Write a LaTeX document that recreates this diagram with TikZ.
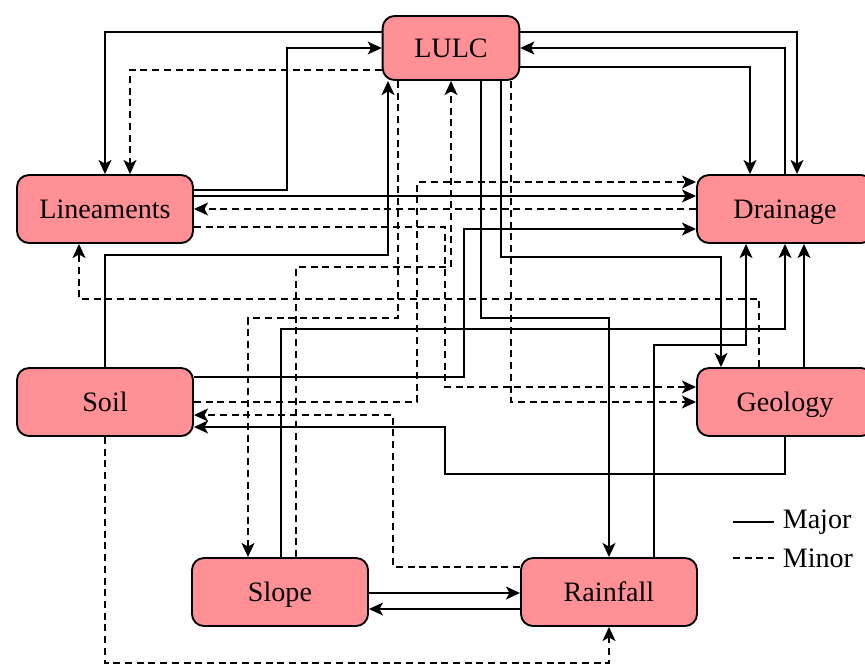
\documentclass[tikz,border=0pt]{standalone}
\usepackage{fontspec}
\setmainfont{Liberation Serif}
\usepackage{xcolor}
\usepackage{tikz}
\usetikzlibrary{arrows.meta,positioning}

\definecolor{boxpink}{RGB}{255,145,150}

\begin{document}
\begin{tikzpicture}[
        x=0.015cm, y=-0.015cm,
        factor/.style={draw, thick, rounded corners=0.18cm, fill=boxpink,
            minimum width=2.64cm, minimum height=1.02cm,
            text height=2.2ex, text depth=0.45ex,
            font=\fontsize{12}{14}\selectfont},
        major/.style={thick},
        minor/.style={thick, dash pattern=on 3pt off 2pt},
        >={Stealth[length=6pt,width=5.5pt,inset=1.5pt]}
    ]
        \useasboundingbox (0,0) rectangle (865,664);
        \node[factor, minimum width=2.05cm, minimum height=0.96cm] (lulc) at (451,48) {LULC};
        \node[factor] (lin) at (105,209) {Lineaments};
        \node[factor] (drain) at (785,209) {Drainage};
        \node[factor] (soil) at (105,402) {Soil};
        \node[factor] (geo) at (785,402) {Geology};
        \node[factor] (slope) at (280,592) {Slope};
        \node[factor] (rain) at (609,592) {Rainfall};

        % major links
        \draw[major,->] (lulc.west |- 0,32) -| (lin.north);
        \draw[major,->] (lin.east |- 0,190) -| (287,48) -- (lulc.west);
        \draw[major,->] (soil.north) |- (388,255) -- (lulc.south -| 388,0);
        \draw[major,->] (lulc.east |- 0,32) -| (drain.north -| 797,0);
        \draw[major,->] (drain.north) |- (lulc.east);
        \draw[major,->] (lulc.east |- 0,67) -| (drain.north -| 750,0);
        \draw[major,->] (lulc.south -| 481,0) |- (609,318) -- (rain.north);
        \draw[major,->] (lulc.south -| 501,0) |- (721,257) -- (geo.north -| 721,0);
        \draw[major,->] (lin.east |- 0,196) -- (drain.west |- 0,196);
        \draw[major,->] (soil.east |- 0,377) -| (464,229) -- (drain.west |- 0,229);
        \draw[major,->] (geo.south) |- (445,474) |- (soil.east |- 0,427);
        \draw[major,->] (slope.north -| 281,0) |- (785,329) -- (drain.south);
        \draw[major,->] (geo.north -| 804,0) -- (drain.south -| 804,0);
        \draw[major,->] (rain.north -| 654,0) |- (746,345) -- (drain.south -| 746,0);
        \draw[major,->] (slope.east |- 0,593) -- (rain.west |- 0,593);
        \draw[major,->] (rain.west |- 0,609) -- (slope.east |- 0,609);

        % minor links
        \draw[minor,->] (lulc.west |- 0,70) -| (lin.north -| 130,0);
        \draw[minor,->] (lulc.south -| 398,0) |- (248,318) -- (slope.north -| 248,0);
        \draw[minor,->] (slope.north -| 296,0) |- (451,267) -- (lulc.south);
        \draw[minor,->] (drain.west) -- (lin.east);
        \draw[minor,->] (lin.east |- 0,227) -| (445,387) -- (geo.west |- 0,387);
        \draw[minor,->] (soil.east) -| (417,182) -- (drain.west |- 0,182);
        \draw[minor,->] (geo.north -| 759,0) |- (79,299) -- (lin.south -| 79,0);
        \draw[minor,->] (lulc.south -| 511,0) |- (geo.west);
        \draw[minor,->] (rain.west |- 0,567) -| (393,415) -- (soil.east |- 0,415);
        \draw[minor,->] (soil.south) |- (609,663) -- (rain.south);

        % legend
        \coordinate (majA) at (733,522);
        \coordinate (minA) at (733,558);
        \draw[major] (majA) -- ++(41,0) node[right, font=\fontsize{12}{14}\selectfont] (majT) {Major};
        \draw[minor] (minA) -- ++(41,0) node[right, font=\fontsize{12}{14}\selectfont] (minT) {Minor};
    \end{tikzpicture}
\end{document}
